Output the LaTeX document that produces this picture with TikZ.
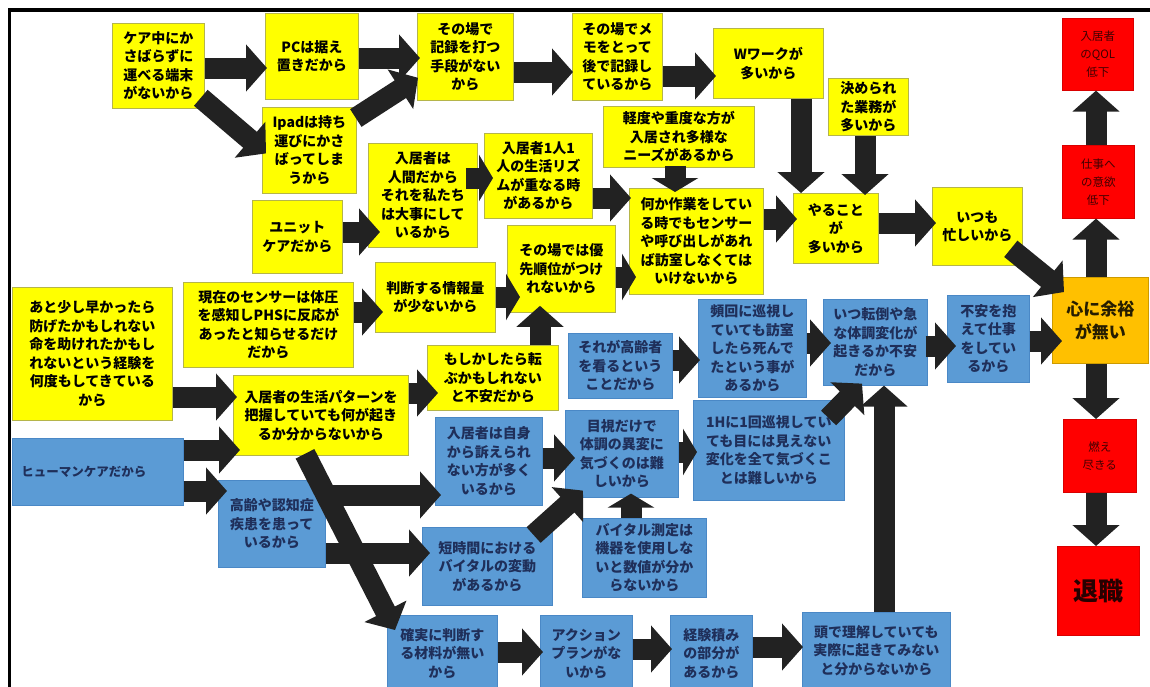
\documentclass[tikz,border=0pt]{standalone}
\usepackage{fontspec}
\setmainfont{Noto Sans CJK JP}
\usetikzlibrary{arrows.meta}
\definecolor{ylw}{HTML}{FFFF00}
\definecolor{ylwb}{HTML}{B5B54A}
\definecolor{blu}{HTML}{5B9BD5}
\definecolor{blub}{HTML}{4A88C6}
\definecolor{navy}{HTML}{1F2F5A}
\definecolor{rd}{HTML}{FF0000}
\definecolor{org}{HTML}{FFC000}
\definecolor{arr}{HTML}{222222}
\begin{document}
\begin{tikzpicture}[x=1pt,y=-1pt,
  basebox/.style={anchor=north west, align=center, inner sep=2pt, font=\bfseries\fontsize{14}{18.5}\selectfont},
  yb/.style={basebox, fill=ylw, draw=ylwb, line width=0.8pt, text=black},
  bb/.style={basebox, fill=blu, draw=blub, line width=0.6pt, text=navy},
  rb/.style={basebox, fill=rd, draw=rd!85!black, line width=0.6pt, text=black!75!red, font=\fontsize{11.5}{18}\selectfont},
  ob/.style={basebox, fill=org, draw=org!80!black, line width=0.6pt, text=black!85!org, font=\bfseries\fontsize{17}{23}\selectfont},
  ba/.style={draw=arr, line width=21pt, -{Triangle[length=21pt,width=46pt]}},
  bas/.style={draw=arr, line width=21pt, -{Triangle[length=14pt,width=46pt]}},
]
\useasboundingbox (0,0) rectangle (1150,686);
\fill[white] (0,0) rectangle (1150,686);
\draw[line width=3.5pt] (9.5,690) -- (9.5,10) -- (1152,10);

% yellow boxes
\node[yb, minimum width=92pt, minimum height=85pt] (n1) at (112,23) {ケア中にか\\さばらずに\\運べる端末\\がないから};
\node[yb, minimum width=93pt, minimum height=86pt] (n2) at (265,13) {PCは据え\\置きだから};
\node[yb, minimum width=94pt, minimum height=86pt] (n3) at (262,107) {Ipadは持ち\\運びにかさ\\ばってしま\\うから};
\node[yb, minimum width=96pt, minimum height=87pt] (n4) at (417,13) {その場で\\記録を打つ\\手段がない\\から};
\node[yb, minimum width=90pt, minimum height=87pt] (n5) at (572,13) {その場でメ\\モをとって\\後で記録し\\ているから};
\node[yb, minimum width=110pt, minimum height=70pt] (n6) at (713,28) {Wワークが\\多いから};
\node[yb, minimum width=80pt, minimum height=57pt] (n7) at (828,78) {決められ\\た業務が\\多いから};
\node[yb, minimum width=151pt, minimum height=61pt] (n8) at (603,106) {軽度や重度な方が\\入居され多様な\\ニーズがあるから};
\node[yb, minimum width=109pt, minimum height=104pt] (n9) at (368,143) {入居者は\\人間だから\\それを私たち\\は大事にして\\いるから};
\node[yb, minimum width=108pt, minimum height=85pt] (n10) at (484,133) {入居者1人1\\人の生活リズ\\ムが重なる時\\があるから};
\node[yb, minimum width=90pt, minimum height=73pt] (n11) at (252,200) {ユニット\\ケアだから};
\node[yb, minimum width=134pt, minimum height=106pt] (n12) at (629,188) {何か作業をしてい\\る時でもセンサー\\や呼び出しがあれ\\ば訪室しなくては\\いけないから};
\node[yb, minimum width=85pt, minimum height=70pt] (n13) at (793,193) {やること\\が\\多いから};
\node[yb, minimum width=90pt, minimum height=78pt] (n14) at (932,187) {いつも\\忙しいから};
\node[yb, minimum width=170pt, minimum height=85pt] (n20) at (183,282) {現在のセンサーは体圧\\を感知しPHSに反応が\\あったと知らせるだけ\\だから};
\node[yb, minimum width=120pt, minimum height=70pt] (n21) at (375,262) {判断する情報量\\が少ないから};
\node[yb, minimum width=108pt, minimum height=87pt] (n22) at (507,225) {その場では優\\先順位がつけ\\れないから};
\node[yb, minimum width=160pt, minimum height=133pt] (n23) at (12,287) {あと少し早かったら\\防げたかもしれない\\命を助けれたかもし\\れないという経験を\\何度もしてきている\\から};
\node[yb, minimum width=175pt, minimum height=80pt] (n24) at (233,375) {入居者の生活パターンを\\把握していても何が起き\\るか分からないから};
\node[yb, minimum width=131pt, minimum height=65pt] (n25) at (427,345) {もしかしたら転\\ぶかもしれない\\と不安だから};

% red / orange boxes
\node[rb, minimum width=71pt, minimum height=72pt] (n15) at (1062,18) {入居者\\のQOL\\低下};
\node[rb, minimum width=72pt, minimum height=73pt] (n16) at (1062,145) {仕事へ\\の意欲\\低下};
\node[ob, minimum width=96pt, minimum height=86pt] (n17) at (1052,277) {心に余裕\\が無い};
\node[rb, minimum width=73pt, minimum height=73pt] (n18) at (1063,419) {燃え\\尽きる};
\node[rb, minimum width=82pt, minimum height=89pt, font=\bfseries\fontsize{25}{28}\selectfont, text=black!85!red] (n19) at (1057,546) {退職};

% blue boxes
\node[bb, minimum width=104pt, minimum height=65pt] (n26) at (568,333) {それが高齢者\\を看るという\\ことだから};
\node[bb, minimum width=108pt, minimum height=98pt] (n27) at (698,299) {頻回に巡視し\\ていても訪室\\したら死んで\\たという事が\\あるから};
\node[bb, minimum width=104pt, minimum height=86pt] (n28) at (823,299) {いつ転倒や急\\な体調変化が\\起きるか不安\\だから};
\node[bb, minimum width=82pt, minimum height=87pt] (n29) at (947,295) {不安を抱\\えて仕事\\をしてい\\るから};
\node[bb, minimum width=160pt, minimum height=67pt, align=left, font=\bfseries\fontsize{12.5}{16}\selectfont, inner xsep=9pt] (n30) at (12,438) {ヒューマンケアだから\hspace*{28pt}};
\node[bb, minimum width=107pt, minimum height=87pt] (n31) at (218,480) {高齢や認知症\\疾患を患って\\いるから};
\node[bb, minimum width=107pt, minimum height=88pt] (n32) at (435,417) {入居者は自身\\から訴えられ\\ない方が多く\\いるから};
\node[bb, minimum width=113pt, minimum height=87pt] (n33) at (565,410) {目視だけで\\体調の異変に\\気づくのは難\\しいから};
\node[bb, minimum width=151pt, minimum height=100pt] (n34) at (693,400) {1Hに1回巡視してい\\ても目には見えない\\変化を全て気づくこ\\とは難しいから};
\node[bb, minimum width=130pt, minimum height=78pt] (n35) at (422,527) {短時間における\\バイタルの変動\\があるから};
\node[bb, minimum width=124pt, minimum height=79pt] (n36) at (582,518) {バイタル測定は\\機器を使用しな\\いと数値が分か\\らないから};
\node[bb, minimum width=110pt, minimum height=76pt] (n37) at (387,615) {確実に判断す\\る材料が無い\\から};
\node[bb, minimum width=92pt, minimum height=76pt] (n38) at (540,615) {アクション\\プランがな\\いから};
\node[bb, minimum width=82pt, minimum height=76pt] (n39) at (670,615) {経験積み\\の部分が\\あるから};
\node[bb, minimum width=148pt, minimum height=76pt] (n40) at (802,612) {頭で理解していても\\実際に起きてみない\\と分からないから};

% arrows
\draw[ba] (n1.east |- 0,68) -- ([xshift=2pt]n2.west |- 0,68);
\draw[ba] ([xshift=-4pt,yshift=11pt]n1.south east) -- ([xshift=4pt,yshift=-3pt]n3.west);
\draw[ba] (n2.east |- 0,58) -- ([xshift=3pt]n4.west |- 0,58);
\draw[ba] ([xshift=-1pt,yshift=-11pt]n3.north east) -- ([xshift=1pt,yshift=23pt]n4.south west);
\draw[ba] (n4.east |- 0,72) -- ([xshift=1pt]n5.west |- 0,72);
\draw[ba] (n5.east |- 0,76) -- ([xshift=3pt]n6.west |- 0,76);
\draw[ba] (n6.south -| 801,0) -- (n13.north -| 801,0);
\draw[ba] (n7.south -| 865,0) -- ([yshift=-2pt]n13.north -| 865,0);
\draw[bas] ([yshift=2pt]n8.south -| 675,0) -- ([yshift=-4pt]n12.north -| 675,0);
\draw[bas] ([xshift=-12pt]n9.east |- 0,178) -- ([xshift=9pt]n10.west |- 0,178);
\draw[ba] (n11.east |- 0,232) -- ([xshift=12pt]n9.west |- 0,232);
\draw[ba] (n10.east |- 0,198) -- ([xshift=2pt]n12.west |- 0,198);
\draw[ba] (n12.east |- 0,219) -- ([xshift=4pt]n13.west |- 0,219);
\draw[ba] (n13.east |- 0,223) -- ([xshift=4pt]n14.west |- 0,223);
\draw[ba] ([xshift=-12pt,yshift=17pt]n14.south east) -- ([xshift=12pt,yshift=-15pt]n17.north west);
\draw[ba] (n17.north -| 1096,0) -- (n16.south -| 1096,0);
\draw[ba] (n16.north -| 1096,0) -- (n15.south -| 1096,0);
\draw[ba] (n17.south -| 1096,0) -- (n18.north -| 1096,0);
\draw[ba] (n18.south -| 1096,0) -- (n19.north -| 1096,0);
\draw[ba] (n20.east |- 0,312) -- ([xshift=8pt]n21.west |- 0,312);
\draw[bas] (n21.east |- 0,297) -- ([xshift=13pt]n22.west |- 0,297);
\draw[bas] (n22.east |- 0,277) -- ([xshift=7pt]n12.west |- 0,277);
\draw[ba] (n25.north -| 540,0) -- ([yshift=7pt]n22.south -| 540,0);
\draw[ba] (n23.east |- 0,397) -- ([xshift=4pt]n24.west |- 0,397);
\draw[ba] (n30.east |- 0,450) -- ([xshift=7pt]n24.west |- 0,450);
\draw[ba] (n30.east |- 0,491) -- ([xshift=9pt]n31.west |- 0,491);
\draw[ba] (n24.east |- 0,393) -- ([xshift=11pt]n25.west |- 0,393);
\draw[ba] (n26.east |- 0,360) -- ([xshift=2pt]n27.west |- 0,360);
\draw[ba] (n27.east |- 0,343) -- ([xshift=8pt]n28.west |- 0,343);
\draw[ba] ([xshift=-2pt]n28.east |- 0,346) -- ([xshift=9pt]n29.west |- 0,346);
\draw[ba] (n29.east |- 0,341) -- ([xshift=10pt]n17.west |- 0,341);
\draw[ba] (n31.east |- 0,495) -- ([xshift=6pt]n32.west |- 0,495);
\draw[ba] (n31.east |- 0,553) -- ([xshift=8pt]n35.west |- 0,553);
\draw[ba] ([xshift=72pt,yshift=2pt]n24.south west) -- ([xshift=8pt,yshift=-15pt]n37.north west);
\draw[ba] (n37.east |- 0,652) -- ([xshift=3pt]n38.west |- 0,652);
\draw[ba] (n38.east |- 0,649) -- ([xshift=2pt]n39.west |- 0,649);
\draw[ba] (n39.east |- 0,647) -- ([xshift=1pt]n40.west |- 0,647);
\draw[ba] (n40.north -| 884,0) -- (n28.south -| 884,0);
\draw[ba] (n32.east |- 0,458) -- ([xshift=10pt]n33.west |- 0,458);
\draw[bas] (n33.east |- 0,452) -- ([xshift=4pt]n34.west |- 0,452);
\draw[ba] ([xshift=-16pt,yshift=-18pt]n34.north east) -- ([xshift=39pt,yshift=2pt]n28.south west);
\draw[ba] ([xshift=-19pt,yshift=-8pt]n35.north east) -- ([xshift=18pt,yshift=7pt]n33.south west);
\draw[bas] (n36.north -| 631,0) -- ([yshift=4pt]n33.south -| 631,0);
\end{tikzpicture}
\end{document}
